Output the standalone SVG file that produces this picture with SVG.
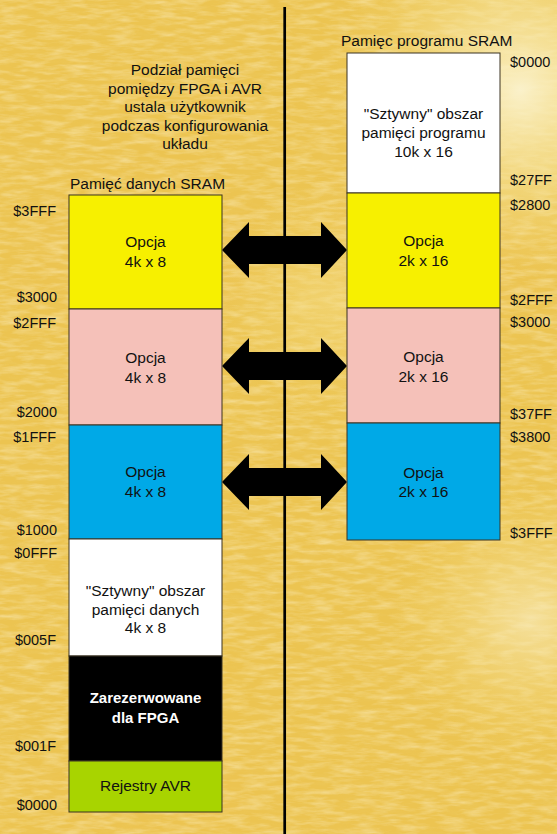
<svg xmlns="http://www.w3.org/2000/svg" width="557" height="834" viewBox="0 0 557 834">
<defs>
<style>
text{font-family:"Liberation Sans",Arial,sans-serif;fill:#111}
.lbl{font-size:14.5px}
.r{text-anchor:end}
.c{text-anchor:middle;font-size:15.5px}
.box{stroke:#3a3322;stroke-width:1}
.arrow{fill:#000}
</style>
<radialGradient id="glow1" cx="520" cy="90" r="190" gradientUnits="userSpaceOnUse">
<stop offset="0" stop-color="#fbf3cf" stop-opacity="0.95"/>
<stop offset="0.5" stop-color="#f7e6a0" stop-opacity="0.5"/>
<stop offset="1" stop-color="#f2d670" stop-opacity="0"/>
</radialGradient>
<radialGradient id="glow2" cx="530" cy="620" r="140" gradientUnits="userSpaceOnUse">
<stop offset="0" stop-color="#f9ecbc" stop-opacity="0.7"/>
<stop offset="1" stop-color="#f2d670" stop-opacity="0"/>
</radialGradient>
<radialGradient id="glow3" cx="330" cy="300" r="120" gradientUnits="userSpaceOnUse">
<stop offset="0" stop-color="#f6e08c" stop-opacity="0.5"/>
<stop offset="1" stop-color="#f2d670" stop-opacity="0"/>
</radialGradient>
<filter id="tex" x="0" y="0" width="100%" height="100%">
<feTurbulence type="fractalNoise" baseFrequency="0.045 0.2" numOctaves="3" seed="7"/>
<feColorMatrix type="matrix" values="0 0 0 0 1  0 0 0 0 0.93  0 0 0 0 0.7  1.4 0 0 0 -0.55"/>
</filter>
<filter id="tex2" x="0" y="0" width="100%" height="100%">
<feTurbulence type="fractalNoise" baseFrequency="0.05 0.22" numOctaves="2" seed="21"/>
<feColorMatrix type="matrix" values="0 0 0 0 0.85  0 0 0 0 0.62  0 0 0 0 0.15  1.3 0 0 0 -0.6"/>
</filter>
</defs>

<g id="background">
<rect x="0" y="0" width="557" height="834" fill="#ecc451"/>
<rect x="0" y="0" width="557" height="834" filter="url(#tex2)" opacity="0.55"/>
<rect x="0" y="0" width="557" height="834" filter="url(#tex)" opacity="0.6"/>
<rect x="0" y="0" width="557" height="834" fill="url(#glow3)"/>
<rect x="0" y="0" width="557" height="834" fill="url(#glow2)"/>
<rect x="0" y="0" width="557" height="834" fill="url(#glow1)"/>
</g>

<g id="connectors">
<line x1="284.7" y1="7" x2="284.7" y2="834" stroke="#000" stroke-width="2.7"/>
<path class="arrow" d="M222,250 L249,222 L249,236 L321,236 L321,222 L347,250 L321,278 L321,264 L249,264 L249,278 Z"/>
<path class="arrow" d="M222,366 L249,338 L249,352 L321,352 L321,338 L347,366 L321,394 L321,380 L249,380 L249,394 Z"/>
<path class="arrow" d="M222,482 L249,454 L249,468 L321,468 L321,454 L347,482 L321,510 L321,496 L249,496 L249,510 Z"/>
</g>

<g id="note">
<text class="c" x="185" y="75">Podział pamięci</text>
<text class="c" x="185" y="93.5">pomiędzy FPGA i AVR</text>
<text class="c" x="185" y="112">ustala użytkownik</text>
<text class="c" x="185" y="130.5">podczas konfigurowania</text>
<text class="c" x="185" y="149">układu</text>
</g>

<g id="title-data">
<text x="70" y="189" style="font-size:15.5px">Pamięć danych SRAM</text>
</g>
<g id="title-prog">
<text x="341" y="46" style="font-size:15.5px">Pamięc programu SRAM</text>
</g>

<g id="d-opt3">
<rect class="box" x="69" y="195" width="153" height="114" fill="#f7f000"/>
<text class="c" x="145.5" y="247">Opcja</text>
<text class="c" x="145.5" y="267">4k x 8</text>
</g>
<g id="d-opt2">
<rect class="box" x="69" y="309" width="153" height="116" fill="#f5c1b9"/>
<text class="c" x="145.5" y="363">Opcja</text>
<text class="c" x="145.5" y="383">4k x 8</text>
</g>
<g id="d-opt1">
<rect class="box" x="69" y="425" width="153" height="114" fill="#00a9e7"/>
<text class="c" x="145.5" y="477">Opcja</text>
<text class="c" x="145.5" y="497">4k x 8</text>
</g>
<g id="d-fixed">
<rect class="box" x="69" y="539" width="153" height="117" fill="#ffffff"/>
<text class="c" x="145.5" y="596">"Sztywny" obszar</text>
<text class="c" x="145.5" y="614.5">pamięci danych</text>
<text class="c" x="145.5" y="633">4k x 8</text>
</g>
<g id="d-fpga">
<rect class="box" x="69" y="656" width="153" height="105" fill="#000000"/>
<text class="c" x="145.5" y="703" style="fill:#fff;font-weight:bold;font-size:15px">Zarezerwowane</text>
<text class="c" x="145.5" y="722.5" style="fill:#fff;font-weight:bold;font-size:15px">dla FPGA</text>
</g>
<g id="d-avr">
<rect class="box" x="69" y="761" width="153" height="51" fill="#a8d400"/>
<text class="c" x="145.5" y="791">Rejestry AVR</text>
</g>

<g id="p-fixed">
<rect class="box" x="347" y="53" width="153" height="140" fill="#ffffff"/>
<text class="c" x="423.5" y="119">"Sztywny" obszar</text>
<text class="c" x="423.5" y="138">pamięci programu</text>
<text class="c" x="423.5" y="157">10k x 16</text>
</g>
<g id="p-opt1">
<rect class="box" x="347" y="193" width="153" height="115" fill="#f7f000"/>
<text class="c" x="423.5" y="246">Opcja</text>
<text class="c" x="423.5" y="266">2k x 16</text>
</g>
<g id="p-opt2">
<rect class="box" x="347" y="308" width="153" height="115" fill="#f5c1b9"/>
<text class="c" x="423.5" y="362">Opcja</text>
<text class="c" x="423.5" y="382">2k x 16</text>
</g>
<g id="p-opt3">
<rect class="box" x="347" y="423" width="153" height="117" fill="#00a9e7"/>
<text class="c" x="423.5" y="478">Opcja</text>
<text class="c" x="423.5" y="497">2k x 16</text>
</g>

<g id="addr-data">
<text class="lbl r" x="56" y="216">$3FFF</text>
<text class="lbl r" x="57" y="302">$3000</text>
<text class="lbl r" x="56" y="328">$2FFF</text>
<text class="lbl r" x="57" y="417">$2000</text>
<text class="lbl r" x="56" y="442">$1FFF</text>
<text class="lbl r" x="57" y="535">$1000</text>
<text class="lbl r" x="57" y="558">$0FFF</text>
<text class="lbl r" x="56" y="645">$005F</text>
<text class="lbl r" x="56" y="751">$001F</text>
<text class="lbl r" x="57" y="810">$0000</text>
</g>
<g id="addr-prog">
<text class="lbl" x="510" y="67">$0000</text>
<text class="lbl" x="510" y="185">$27FF</text>
<text class="lbl" x="510" y="210">$2800</text>
<text class="lbl" x="510" y="305">$2FFF</text>
<text class="lbl" x="510" y="327">$3000</text>
<text class="lbl" x="510" y="419">$37FF</text>
<text class="lbl" x="510" y="442">$3800</text>
<text class="lbl" x="510" y="538">$3FFF</text>
</g>
</svg>
